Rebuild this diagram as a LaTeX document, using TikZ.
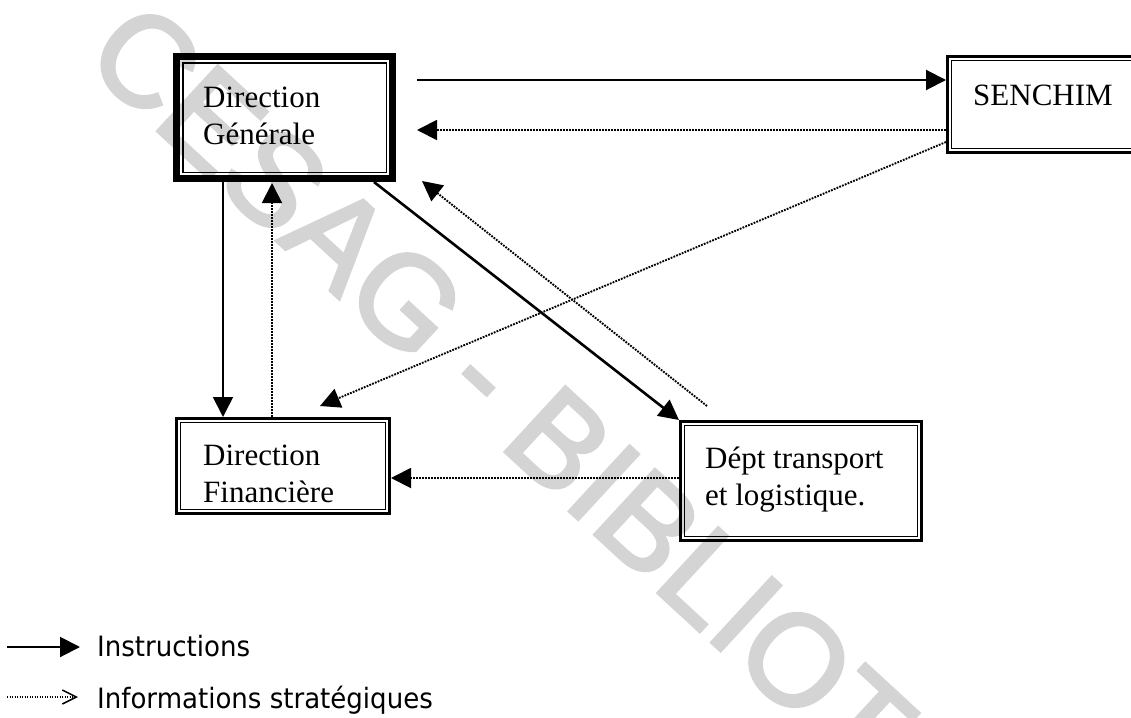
\documentclass[tikz,border=0pt]{standalone}
\usepackage{fontspec}
\setmainfont{Liberation Serif}
\newfontfamily\legfont{DejaVu Sans}[FakeStretch=0.93]
\newfontfamily\wmfont{Liberation Sans}[FakeBold=2.5]
\usetikzlibrary{arrows.meta,calc}
\newcommand\dblframe[4]{%
  \draw[line width=#2pt] ([shift={(#2/2,#2/2)}]#1.north west) rectangle ([shift={(-#2/2,-#2/2)}]#1.south east);
  \draw[line width=#4pt] ([shift={(#2+#3+#4/2,#2+#3+#4/2)}]#1.north west) rectangle ([shift={(-#2-#3-#4/2,-#2-#3-#4/2)}]#1.south east);
}
\tikzset{
  boxn/.style={draw=none, inner sep=0pt, outer sep=0pt, anchor=north west},
  boxtext/.style={inner sep=0pt, anchor=base west, font=\fontsize{31}{37}\selectfont},
  legtext/.style={inner sep=0pt, anchor=base west, font=\legfont\fontsize{28}{34}\selectfont},
  tipfill/.style={-{Triangle[length=20pt,width=20pt]}},
  instr/.style={line width=2pt, tipfill},
  info/.style={line width=1.9pt, dash pattern=on 1.8pt off 1.2pt, tipfill},
  wmark/.style={text=black!17, inner sep=0pt, font=\wmfont\fontsize{129}{130}\selectfont, rotate=-42.7}
}
\begin{document}
\begin{tikzpicture}[x=1pt,y=-1pt]
\useasboundingbox (0,0) rectangle (1131,717);
% watermark
\node[wmark] (wm) at (662,552) {CESAG - BIBLIOTHEQUE};
% boxes
\node[boxn, minimum width=223pt, minimum height=129pt] (dg) at (173,53) {};
\node[boxn, minimum width=220pt, minimum height=99pt] (sen) at (946,55) {};
\node[boxn, minimum width=216pt, minimum height=98pt] (df) at (175,417) {};
\node[boxn, minimum width=244pt, minimum height=122pt] (dt) at (679,420) {};
\dblframe{dg}{7}{2}{1.5}
\dblframe{sen}{3}{1.8}{1.4}
\dblframe{df}{3}{1.8}{1.4}
\dblframe{dt}{3}{1.8}{1.4}
% texts
\node[boxtext] (dgt) at ($(dg.north west)+(30,54)$) {\begin{tabular}[t]{@{}l@{}}Direction\\Générale\end{tabular}};
\node[boxtext] (sent) at ($(sen.north west)+(27,50)$) {SENCHIM};
\node[boxtext] (dft) at ($(df.north west)+(28,48)$) {\begin{tabular}[t]{@{}l@{}}Direction\\Financière\end{tabular}};
\node[boxtext] (dtt) at ($(dt.north west)+(26,48)$) {\begin{tabular}[t]{@{}l@{}}Dépt transport\\et logistique.\end{tabular}};
% connectors
\draw[instr] ($(dg.north east)+(21,27)$) -- ($(sen.north west)+(0,25)$);
\draw[info] ($(sen.north west)+(0,75)$) -- ($(dg.north east)+(21,77)$);
\draw[info] ($(sen.north west)+(0,87)$) -- ($(df.north west)+(145,-11)$);
\draw[instr, line width=2.6pt] ($(dg.south east)+(-22,0)$) -- (dt.north west);
\draw[info] ($(dt.north west)+(28,-14)$) -- ($(dg.south east)+(26,-1)$);
\draw[instr, line width=1.7pt] ($(dg.south west)+(50,0)$) -- ($(df.north west)+(48,0)$);
\draw[info] ($(df.north west)+(97,0)$) -- ($(dg.south west)+(99,1)$);
\draw[info] ($(dt.north west)+(0,58)$) -- ($(df.north east)+(0,61)$);
% legend
\coordinate (l1a) at (7,647);
\coordinate (l1b) at (80,647);
\coordinate (l2a) at (7,697);
\coordinate (l2b) at (78,697);
\draw[instr] (l1a) -- (l1b);
\draw[line width=1.5pt, dash pattern=on 1.4pt off 1.1pt, -{Straight Barb[length=14pt,width=14pt,line width=1.5pt]}] (l2a) -- (l2b);
\node[legtext] (lt1) at (97,656) {Instructions};
\node[legtext] (lt2) at (97,708) {Informations stratégiques};
\end{tikzpicture}
\end{document}
